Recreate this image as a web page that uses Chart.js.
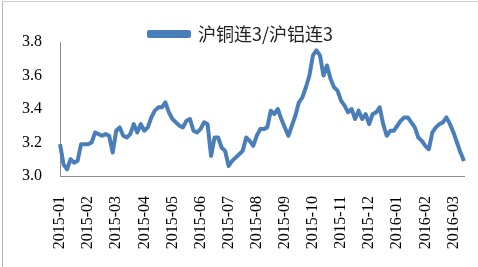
<!DOCTYPE html>
<html>
<head>
<meta charset="utf-8">
<script src="https://cdn.jsdelivr.net/npm/chart.js@4.4.1/dist/chart.umd.min.js"></script>
<style>
  html, body { margin: 0; padding: 0; background: #fff; }
  #wrap { position: relative; width: 478px; height: 267px; overflow: hidden; }
  #frame { position: absolute; left: 2px; top: 1px; width: 500px; height: 300px;
           border-left: 1px solid #b8b8b8; border-top: 1px solid #d0d0d0; }
  canvas { position: absolute; left: 0; top: 0; }
</style>
</head>
<body>
<div id="wrap">
  <div id="frame"></div>
  <canvas id="ratioChart" width="478" height="267"></canvas>
</div>
<script>
// tick labels on the x axis, one every PER_MONTH points
const monthTicks = ["2015-01", "2015-02", "2015-03", "2015-04", "2015-05",
  "2015-06", "2015-07", "2015-08", "2015-09", "2015-10", "2015-11",
  "2015-12", "2016-01", "2016-02", "2016-03"];
const PER_MONTH = 8;

// series name (legend)
const seriesName = "沪铜连3/沪铝连3";

// ratio values
const ratioValues = [
  3.19, 3.07, 3.04, 3.10, 3.08, 3.09, 3.19, 3.19,
  3.19, 3.20, 3.26, 3.25, 3.24, 3.25, 3.24, 3.14,
  3.27, 3.29, 3.24, 3.23, 3.25, 3.31, 3.26, 3.31,
  3.27, 3.29, 3.35, 3.39, 3.41, 3.41, 3.44, 3.38,
  3.34, 3.32, 3.30, 3.29, 3.33, 3.34, 3.27, 3.26,
  3.28, 3.32, 3.31, 3.12, 3.23, 3.23, 3.17, 3.15,
  3.06, 3.09, 3.11, 3.13, 3.15, 3.23, 3.21, 3.18,
  3.24, 3.28, 3.28, 3.29, 3.39, 3.37, 3.40, 3.34,
  3.29, 3.24, 3.30, 3.36, 3.44, 3.47, 3.53, 3.60,
  3.72, 3.75, 3.72, 3.60, 3.66, 3.58, 3.53, 3.51,
  3.45, 3.42, 3.38, 3.40, 3.34, 3.39, 3.34, 3.37,
  3.31, 3.37, 3.38, 3.41, 3.31, 3.24, 3.27, 3.27,
  3.30, 3.33, 3.35, 3.35, 3.32, 3.29, 3.23, 3.21,
  3.18, 3.16, 3.26, 3.29, 3.31, 3.32, 3.35, 3.31,
  3.26, 3.20, 3.14, 3.09
];

// y axis range
const yMin = 3.0;
const yMax = 3.8;
const yStep = 0.2;

const lineColor = "#4a7ebb";

// build category labels: month label at the start of each block, blank otherwise
const labels = ratioValues.map((v, i) =>
  i % PER_MONTH === 0 ? (monthTicks[i / PER_MONTH] || "") : ""
);

// the legend sits a little lower than the layout puts it, overlapping the plot top
const legendNudge = {
  id: "legendNudge",
  afterLayout(chart) {
    if (chart.legend) {
      chart.legend.top += 11;
      chart.legend.bottom += 11;
    }
  },
};

const ctx = document.getElementById("ratioChart").getContext("2d");
new Chart(ctx, {
  type: "line",
  data: {
    labels: labels,
    datasets: [
      {
        label: seriesName,
        data: ratioValues,
        borderColor: lineColor,
        backgroundColor: lineColor,
        borderWidth: 4,
        borderJoinStyle: "round",
        pointRadius: 0,
        tension: 0,
        fill: false,
      },
    ],
  },
  plugins: [legendNudge],
  options: {
    responsive: false,
    animation: false,
    layout: { padding: { left: 18, right: 14, top: 6, bottom: 0 } },
    plugins: {
      tooltip: { enabled: false },
      legend: {
        position: "top",
        labels: {
          boxWidth: 40,
          boxHeight: 4,
          padding: 8,
          color: "#222",
          font: { family: "'Noto Sans CJK SC', 'Noto Sans'", size: 18 },
        },
      },
    },
    scales: {
      x: {
        type: "category",
        offset: false,
        grid: { display: false },
        border: { display: true, color: "#8c8c8c", width: 1 },
        ticks: {
          autoSkip: false,
          maxRotation: 90,
          minRotation: 90,
          padding: 12,
          color: "#000",
          font: { family: "'Liberation Serif', 'DejaVu Serif'", size: 16 },
        },
        afterFit: (scale) => {
          scale.height = 91;
          scale.paddingLeft = 0;
          scale.paddingRight = 0;
        },
      },
      y: {
        min: yMin,
        max: yMax,
        grid: { display: false },
        border: { display: true, color: "#8c8c8c", width: 1 },
        ticks: {
          stepSize: yStep,
          padding: 10,
          color: "#000",
          font: { family: "'Liberation Serif', 'DejaVu Serif'", size: 16 },
          callback: (v) => Number(v).toFixed(1),
        },
        afterFit: (scale) => {
          scale.width = 42;
        },
      },
    },
  },
});
</script>
</body>
</html>
